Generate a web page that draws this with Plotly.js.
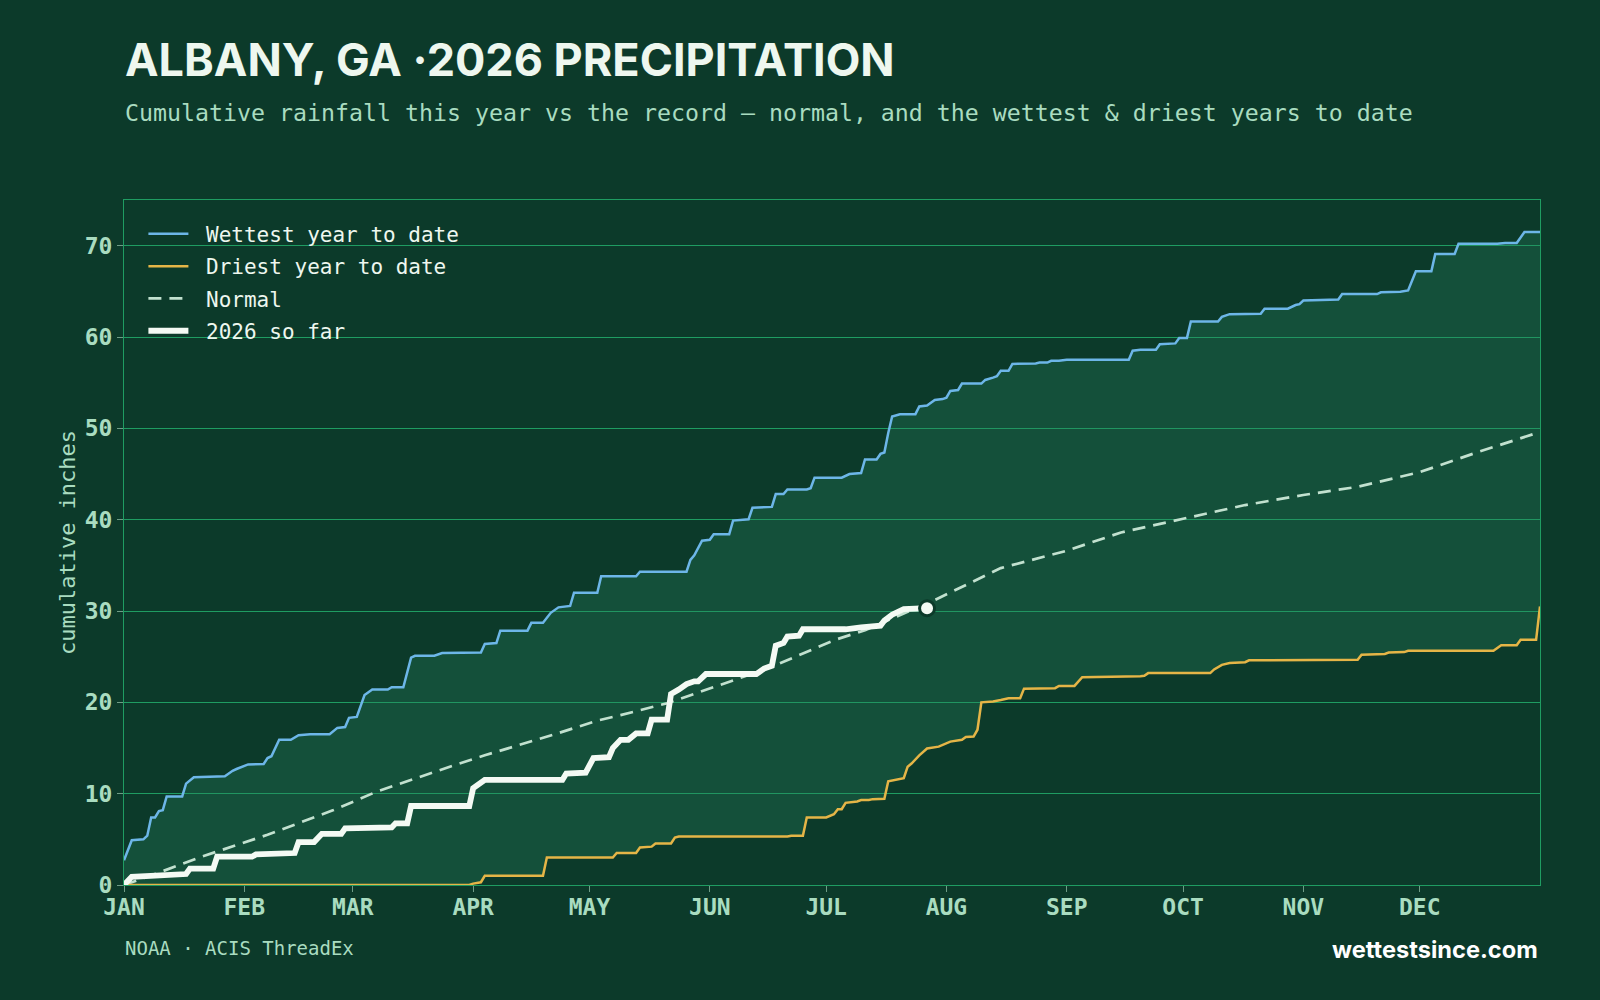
<!DOCTYPE html>
<html>
<head>
<meta charset="utf-8">
<script src="https://cdn.plot.ly/plotly-3.0.1.min.js"></script>
<style>
  html, body { margin: 0; padding: 0; background: #0c3a2a; }
  #chart { width: 1600px; height: 1000px; }
</style>
</head>
<body>
<div id="chart"></div>
<script>
// Cumulative precipitation, Albany GA. Days are counted from 1 Jan 2026 (day 0);
// totals are inches accumulated since 1 January.

const wettestDays = [0, 2, 5, 6, 7, 8, 9, 10, 11, 15, 16, 17, 18, 26, 28, 29, 32, 36, 37, 38, 40, 43, 45, 48, 53, 55, 57, 58, 60, 62, 64, 68, 69, 72, 74, 75, 80, 82, 92, 93, 96, 97, 104, 105, 108, 110, 112, 115, 116, 122, 123, 132, 133, 145, 146, 147, 149, 151, 152, 156, 157, 161, 162, 167, 168, 170, 171, 176, 177, 178, 185, 187, 190, 191, 194, 195, 196, 197, 198, 200, 204, 205, 207, 209, 211, 212, 213, 215, 216, 221, 222, 224, 225, 226, 228, 229, 232, 235, 236, 238, 239, 241, 243, 259, 260, 262, 266, 267, 271, 272, 274, 275, 282, 283, 285, 293, 294, 300, 302, 303, 304, 313, 314, 323, 324, 329, 331, 333, 337, 338, 343, 344, 354, 356, 359, 361, 365];
const wettestTotals = [2.7, 4.9, 5.0, 5.4, 7.4, 7.4, 8.1, 8.2, 9.7, 9.7, 11.1, 11.5, 11.8, 11.9, 12.5, 12.7, 13.2, 13.25, 13.9, 14.1, 15.9, 15.9, 16.4, 16.5, 16.5, 17.2, 17.3, 18.3, 18.4, 20.8, 21.4, 21.4, 21.65, 21.65, 24.9, 25.1, 25.1, 25.4, 25.45, 26.4, 26.5, 27.85, 27.85, 28.7, 28.7, 29.8, 30.4, 30.55, 32.0, 32.0, 33.8, 33.8, 34.3, 34.3, 35.6, 36.1, 37.7, 37.8, 38.4, 38.4, 39.9, 40.05, 41.3, 41.4, 42.8, 42.8, 43.3, 43.3, 43.45, 44.6, 44.6, 45.0, 45.1, 46.6, 46.6, 47.2, 47.35, 49.5, 51.3, 51.55, 51.55, 52.4, 52.5, 53.1, 53.2, 53.35, 54.1, 54.2, 54.9, 54.9, 55.3, 55.55, 55.7, 56.3, 56.3, 57.05, 57.1, 57.1, 57.2, 57.2, 57.4, 57.4, 57.5, 57.5, 58.5, 58.6, 58.6, 59.2, 59.3, 59.9, 59.9, 61.7, 61.7, 62.2, 62.5, 62.55, 63.1, 63.1, 63.5, 63.6, 64.0, 64.1, 64.7, 64.7, 64.9, 64.95, 65.1, 67.2, 67.2, 69.1, 69.1, 70.2, 70.2, 70.3, 70.3, 71.5, 71.5];

const driestDays = [0, 89, 90, 92, 93, 108, 109, 126, 127, 132, 133, 136, 137, 141, 142, 143, 171, 172, 175, 176, 181, 183, 184, 185, 186, 189, 190, 192, 193, 196, 197, 199, 201, 202, 203, 205, 207, 210, 213, 216, 217, 219, 220, 221, 224, 226, 228, 231, 232, 240, 241, 245, 247, 262, 263, 264, 280, 281, 283, 285, 289, 290, 305, 306, 318, 319, 325, 326, 330, 331, 353, 355, 359, 360, 364, 365];
const driestTotals = [0, 0, 0.15, 0.3, 1.0, 1.0, 3.0, 3.0, 3.5, 3.5, 4.1, 4.2, 4.55, 4.55, 5.2, 5.3, 5.3, 5.4, 5.4, 7.4, 7.4, 7.75, 8.3, 8.3, 9.0, 9.15, 9.3, 9.3, 9.4, 9.45, 11.35, 11.5, 11.7, 12.95, 13.3, 14.2, 14.95, 15.15, 15.7, 15.9, 16.2, 16.25, 17.0, 20.0, 20.1, 20.25, 20.45, 20.45, 21.5, 21.55, 21.8, 21.8, 22.75, 22.85, 22.9, 23.2, 23.2, 23.6, 24.1, 24.3, 24.4, 24.6, 24.6, 24.65, 24.65, 25.2, 25.3, 25.45, 25.5, 25.65, 25.65, 26.25, 26.25, 26.85, 26.85, 30.5];

const normalDays = [0, 8, 20, 31, 37, 54, 65, 85, 93, 111, 122, 128, 140, 157, 167, 183, 191, 209, 226, 243, 257, 273, 289, 304, 318, 334, 349, 365];
const normalTotals = [0, 1.2, 3.1, 4.6, 5.5, 8.2, 10.2, 13.1, 14.2, 16.5, 18.0, 18.6, 19.9, 22.4, 23.9, 26.8, 27.9, 31.2, 34.7, 36.6, 38.6, 40.1, 41.6, 42.7, 43.6, 45.2, 47.4, 49.6];

const thisYearDays = [0, 2, 16, 17, 23, 24, 33, 34, 44, 45, 49, 51, 56, 57, 69, 70, 73, 74, 89, 90, 93, 113, 114, 119, 121, 125, 126, 128, 130, 132, 135, 136, 140, 141, 143, 145, 147, 148, 150, 163, 165, 167, 168, 170, 171, 174, 175, 186, 190, 195, 196, 198, 201, 204, 207];
const thisYearTotals = [0, 0.9, 1.2, 1.8, 1.8, 3.1, 3.1, 3.35, 3.5, 4.7, 4.7, 5.6, 5.6, 6.2, 6.3, 6.75, 6.75, 8.65, 8.65, 10.6, 11.5, 11.5, 12.2, 12.3, 13.9, 14.0, 15.0, 15.9, 15.9, 16.6, 16.6, 18.1, 18.1, 20.9, 21.4, 22.0, 22.3, 22.3, 23.1, 23.1, 23.7, 24.0, 26.2, 26.5, 27.2, 27.3, 28.0, 28.0, 28.2, 28.4, 28.95, 29.6, 30.2, 30.3, 30.3];

const monthTicks = ['2026-01-01', '2026-02-01', '2026-03-01', '2026-04-01', '2026-05-01', '2026-06-01', '2026-07-01', '2026-08-01', '2026-09-01', '2026-10-01', '2026-11-01', '2026-12-01'];
const monthLabels = ['JAN', 'FEB', 'MAR', 'APR', 'MAY', 'JUN', 'JUL', 'AUG', 'SEP', 'OCT', 'NOV', 'DEC'];
const inchTicks = [0, 10, 20, 30, 40, 50, 60, 70];

// palette
const BG = '#0c3a2a';
const GRID = '#1f9c62';
const MINT = '#a9dcc0';
const TEXT = '#eef7ef';
const WET = '#6db6e8';
const DRY = '#e5b547';
const NORMAL = '#c2e1cf';
const NOW = '#f4faf4';
const MONO = '"DejaVu Sans Mono", monospace';
const SANS = 'Inter, "Open Sans", sans-serif';

const START = Date.UTC(2026, 0, 1);
const toDate = d => new Date(START + d * 86400000).toISOString().slice(0, 10);

const wetX = wettestDays.map(toDate);
const dryX = driestDays.map(toDate);
const normX = normalDays.map(toDate);
const nowX = thisYearDays.map(toDate);

// legend labels get a small lead-in gap after the line sample
const GAP = '\u00A0';

// Range band between the wettest and driest years (translucent so the grid shows through)
const band = {
  x: wetX.concat(dryX.slice().reverse()),
  y: wettestTotals.concat(driestTotals.slice().reverse()),
  type: 'scatter', mode: 'lines', fill: 'toself',
  fillcolor: 'rgba(39,131,95,0.30)',
  line: { width: 0 }, showlegend: false, hoverinfo: 'skip'
};

const normal = {
  x: normX, y: normalTotals, name: GAP + 'Normal', legendrank: 3, legendgroup: 'c',
  type: 'scatter', mode: 'lines',
  line: { color: NORMAL, width: 2.7, dash: '13px,8px' }
};

const driest = {
  x: dryX, y: driestTotals, name: GAP + 'Driest year to date', legendrank: 2, legendgroup: 'b',
  type: 'scatter', mode: 'lines', line: { color: DRY, width: 2.5 }
};

const wettest = {
  x: wetX, y: wettestTotals, name: GAP + 'Wettest year to date', legendrank: 1, legendgroup: 'a',
  type: 'scatter', mode: 'lines', line: { color: WET, width: 2.5 }
};

const thisYear = {
  x: nowX, y: thisYearTotals, name: GAP + '2026 so far', legendrank: 4, legendgroup: 'd',
  type: 'scatter', mode: 'lines', line: { color: NOW, width: 5.8 }
};

const latest = {
  x: [nowX[nowX.length - 1]], y: [thisYearTotals[thisYearTotals.length - 1]],
  type: 'scatter', mode: 'markers', showlegend: false, hoverinfo: 'skip',
  marker: { size: 15, color: NOW, line: { color: BG, width: 3 } }
};

const pxY = px => (885 - px) / 685;

const layout = {
  width: 1600, height: 1000,
  paper_bgcolor: BG, plot_bgcolor: BG,
  margin: { l: 124, r: 60, t: 200, b: 115 },
  title: {
    text: 'ALBANY, GA ·2026 PRECIPITATION',
    font: { family: SANS, size: 45, color: TEXT, weight: 700 },
    x: 125 / 1600, xanchor: 'left', xref: 'container',
    y: 1 - 60 / 1000, yanchor: 'middle', yref: 'container'
  },
  showlegend: true,
  legend: {
    x: 0.0137, y: 0.98, xanchor: 'left', yanchor: 'top',
    bgcolor: 'rgba(0,0,0,0)', borderwidth: 0,
    font: { family: MONO, size: 21, color: TEXT },
    itemwidth: 40, tracegroupgap: 2, traceorder: 'grouped'
  },
  xaxis: {
    type: 'date', range: ['2026-01-01', '2027-01-01'],
    tickvals: monthTicks, ticktext: monthLabels,
    ticks: 'outside', ticklen: 6, tickcolor: '#6f9c86', tickwidth: 1,
    ticklabelstandoff: -5,
    showgrid: false, zeroline: false,
    showline: true, mirror: true, linecolor: GRID, linewidth: 1,
    tickfont: { family: MONO, size: 23, color: MINT, weight: 700 },
    fixedrange: true
  },
  yaxis: {
    range: [0, 75], tickvals: inchTicks,
    ticks: 'outside', ticklen: 6, tickcolor: '#6f9c86', tickwidth: 1,
    showgrid: true, gridcolor: GRID, gridwidth: 1, zeroline: false,
    showline: true, mirror: true, linecolor: GRID, linewidth: 1,
    tickfont: { family: MONO, size: 23, color: MINT, weight: 700 },
    title: { text: 'cumulative inches', font: { family: MONO, size: 22, color: MINT }, standoff: 2 },
    fixedrange: true
  },
  annotations: [
    {
      text: 'Cumulative rainfall this year vs the record — normal, and the wettest &amp; driest years to date',
      xref: 'paper', yref: 'paper', x: 0, y: pxY(113), xanchor: 'left', yanchor: 'middle', xshift: -1,
      showarrow: false, font: { family: MONO, size: 23.25, color: MINT }
    },
    {
      text: 'NOAA · ACIS ThreadEx',
      xref: 'paper', yref: 'paper', x: 0, y: pxY(948), xanchor: 'left', yanchor: 'middle', xshift: -1,
      showarrow: false, font: { family: MONO, size: 19, color: MINT }
    },
    {
      text: 'wettestsince.com',
      xref: 'paper', yref: 'paper', x: 1, y: pxY(949), xanchor: 'right', yanchor: 'middle',
      showarrow: false, font: { family: SANS, size: 23.6, color: '#ffffff', weight: 700 }
    }
  ]
};

Plotly.newPlot('chart', [band, normal, driest, wettest, thisYear, latest], layout, { displayModeBar: false, staticPlot: true });
</script>
</body>
</html>
